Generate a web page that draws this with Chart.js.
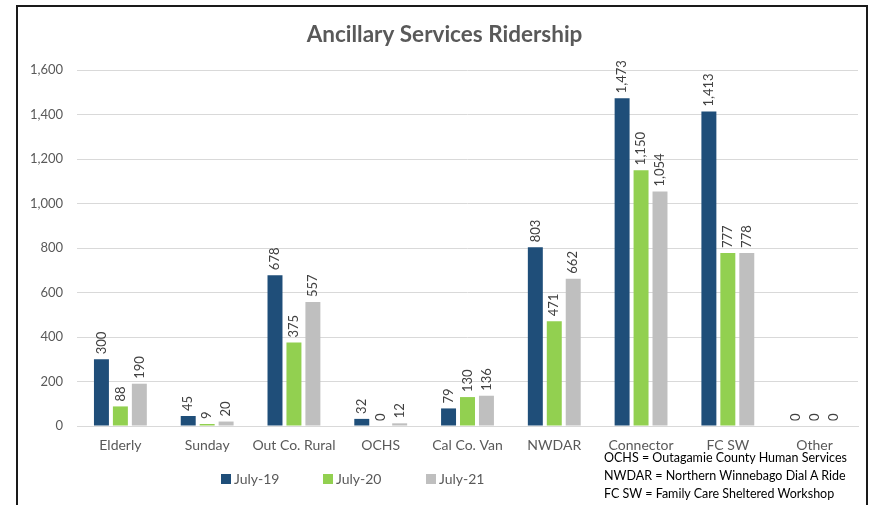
<!DOCTYPE html>
<html>
<head>
<meta charset="utf-8">
<script src="https://cdn.jsdelivr.net/npm/chart.js@4"></script>
<style>
  html, body { margin: 0; padding: 0; background: #fff; }
  #wrap { position: relative; width: 876px; height: 505px; }
  #frame { position: absolute; left: 16px; top: 5px; width: 852px; height: 520px;
           border: 2px solid #1a1a1a; box-sizing: border-box; pointer-events: none; }
  #notes { position: absolute; left: 604px; top: 449px; font: 12.5px Lato, sans-serif;
           color: #000; line-height: 18px; }
</style>
</head>
<body>
<div id="wrap">
  <canvas id="chart" width="876" height="505"></canvas>
  <div id="frame"></div>
  <div id="notes">
    OCHS = Outagamie County Human Services<br>
    NWDAR = Northern Winnebago Dial A Ride<br>
    FC SW = Family Care Sheltered Workshop
  </div>
</div>
<script>
const categories = ["Elderly", "Sunday", "Out Co. Rural", "OCHS", "Cal Co. Van",
  "NWDAR", "Connector", "FC SW", "Other"];
const july19 = [300, 45, 678, 32, 79, 803, 1473, 1413, 0];
const july20 = [88, 9, 375, 0, 130, 471, 1150, 777, 0];
const july21 = [190, 20, 557, 12, 136, 662, 1054, 778, 0];
const seriesNames = ["July-19", "July-20", "July-21"];
const seriesColors = ["#1F4E79", "#92D050", "#BFBFBF"];

const FONT = "Lato, 'Open Sans', sans-serif";
const TEXT = "#595959";

const fmt = (v) => v.toLocaleString("en-US");

// value labels, rotated, above each bar
const barLabels = {
  id: "barLabels",
  afterDatasetsDraw(chart) {
    const ctx = chart.ctx;
    ctx.save();
    ctx.font = "13px " + FONT;
    ctx.fillStyle = "#404040";
    ctx.textAlign = "left";
    ctx.textBaseline = "middle";
    chart.data.datasets.forEach((ds, i) => {
      chart.getDatasetMeta(i).data.forEach((bar, j) => {
        ctx.save();
        ctx.translate(bar.x, bar.y - 5);
        ctx.rotate(-Math.PI / 2);
        ctx.fillText(fmt(ds.data[j]), 0, 0);
        ctx.restore();
      });
    });
    ctx.restore();
  },
};

// legend drawn left of centre, the notes take the right side
const sideLegend = {
  id: "sideLegend",
  afterDraw(chart) {
    const ctx = chart.ctx;
    ctx.save();
    ctx.font = "14px " + FONT;
    ctx.textBaseline = "middle";
    const xs = [221, 323, 426];
    const y = 479;
    chart.data.datasets.forEach((ds, i) => {
      ctx.fillStyle = ds.backgroundColor;
      ctx.fillRect(xs[i], y - 5, 10, 10);
      ctx.fillStyle = TEXT;
      ctx.fillText(ds.label, xs[i] + 13, y);
    });
    ctx.restore();
  },
};

const datasets = [july19, july20, july21].map((d, i) => ({
  label: seriesNames[i],
  data: d,
  backgroundColor: seriesColors[i],
  categoryPercentage: 0.655,
  barPercentage: 0.79,
}));

new Chart(document.getElementById("chart"), {
  type: "bar",
  data: { labels: categories, datasets },
  options: {
    responsive: false,
    animation: false,
    layout: { padding: { left: 31, right: 18, top: 5, bottom: 0 } },
    plugins: {
      legend: { display: false },
      tooltip: { enabled: false },
      title: {
        display: true,
        text: "Ancillary Services Ridership",
        color: TEXT,
        font: { family: FONT, size: 22.5, weight: "bold", lineHeight: 1.2 },
        padding: { top: 16.5, bottom: 21.5 },
      },
    },
    scales: {
      x: {
        grid: { display: false, drawTicks: false },
        border: { color: "#D9D9D9", width: 1 },
        ticks: { color: TEXT, font: { family: FONT, size: 14 }, padding: 11, maxRotation: 0 },
        afterFit(s) { s.height = 79; },
      },
      y: {
        min: 0,
        max: 1600,
        grid: { color: "#D9D9D9", drawTicks: false },
        border: { display: false },
        ticks: {
          stepSize: 200,
          color: TEXT,
          font: { family: FONT, size: 13 },
          padding: 14,
          callback: (v) => fmt(v),
        },
        afterFit(s) { s.width = 46; },
      },
    },
  },
  plugins: [barLabels, sideLegend],
});
</script>
</body>
</html>
